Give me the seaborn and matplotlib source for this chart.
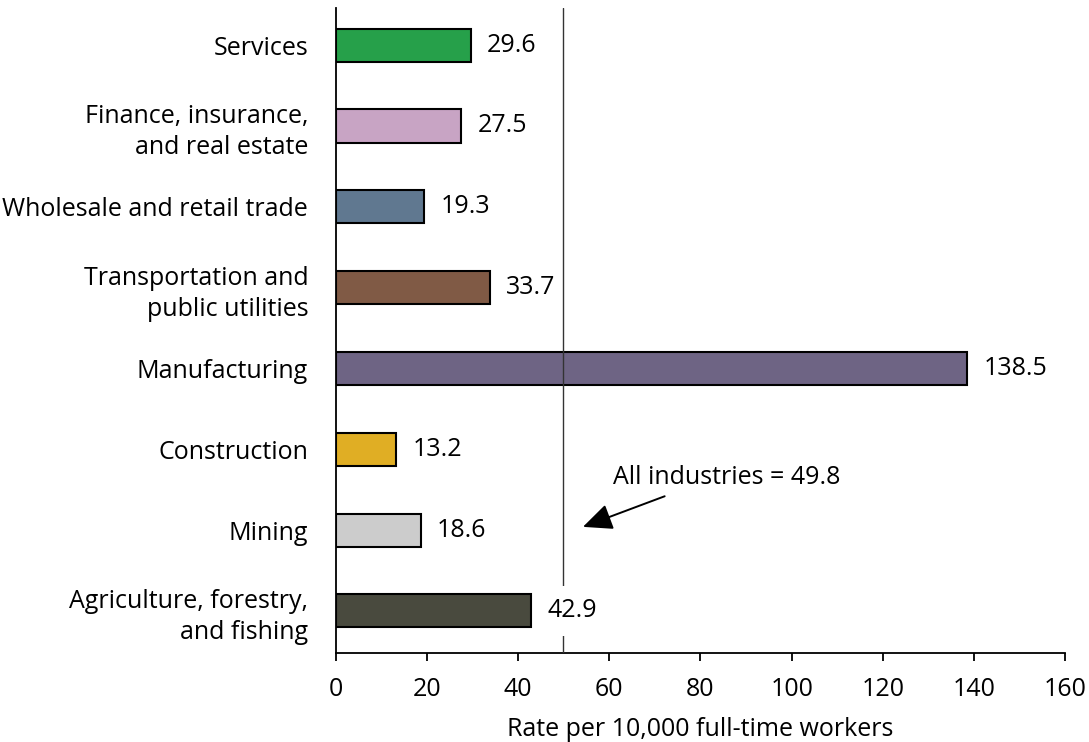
import seaborn as sns
import matplotlib.pyplot as plt
import pandas as pd

industries = ['Services', 'Finance, insurance,\nand real estate', 'Wholesale and retail trade',
              'Transportation and\npublic utilities', 'Manufacturing', 'Construction', 'Mining',
              'Agriculture, forestry,\nand fishing']
rates = [29.6, 27.5, 19.3, 33.7, 138.5, 13.2, 18.6, 42.9]
colours = ['#26a04a', '#c8a4c4', '#607890', '#805a45', '#6e6484', '#e0ae24', '#cccccc', '#494a3e']
all_industries = 49.8
x_ticks = [0, 20, 40, 60, 80, 100, 120, 140, 160]

df = pd.DataFrame({'industry': industries, 'rate': rates})

sns.set_theme(style="white")
plt.rcParams['font.family'] = ['Open Sans', 'DejaVu Sans']
plt.rcParams['text.color'] = 'black'
plt.rcParams['xtick.color'] = 'black'
plt.rcParams['ytick.color'] = 'black'
plt.rcParams['axes.labelcolor'] = 'black'

fs = 18
fig = plt.figure(figsize=(10.89, 7.42), dpi=100)
ax = fig.add_axes([0.3085, 0.12, 0.6695, 0.869])

sns.barplot(data=df, x='rate', y='industry', hue='industry', palette=dict(zip(industries, colours)),
            orient='h', width=0.41, saturation=1, edgecolor='black', linewidth=1.5, legend=False,
            ax=ax, zorder=2)

ax.axvline(all_industries, color='#333333', lw=1, zorder=3)

for i, v in enumerate(rates):
    # white box only where the label sits on the average line
    box = None
    if v + 3.6 < all_industries < v + 16:
        box = dict(facecolor='white', edgecolor='none', boxstyle='square,pad=0.5')
    ax.text(v + 3.6, i, '{:.1f}'.format(v), va='center', ha='left', fontsize=fs, zorder=4, bbox=box)

ax.annotate('All industries = {}'.format(all_industries), xy=(54.2, 5.96), xytext=(60.8, 5.35),
            fontsize=fs, ha='left', va='center',
            arrowprops=dict(arrowstyle='-|>,head_length=1.0,head_width=0.45', color='black', lw=1.4,
                            shrinkA=6, shrinkB=0, relpos=(0.3, 0.0)))

ax.set_xlim(0, 160)
ax.set_ylim(7.52, -0.457)
ax.set_xticks(x_ticks)
ax.set_xlabel('Rate per 10,000 full-time workers', fontsize=fs, labelpad=11)
ax.set_ylabel('')
ax.tick_params(axis='x', bottom=True, length=6, width=1.3, labelsize=fs, pad=11)
ax.tick_params(axis='y', left=False, labelsize=fs, pad=14)
for lbl in ax.get_yticklabels():
    lbl.set_horizontalalignment('right')
    lbl.set_linespacing(1.32)
for s in ['top', 'right']:
    ax.spines[s].set_visible(False)
for s in ['left', 'bottom']:
    ax.spines[s].set_color('black')
    ax.spines[s].set_linewidth(1.3)

fig.savefig('out.png', dpi=100)
